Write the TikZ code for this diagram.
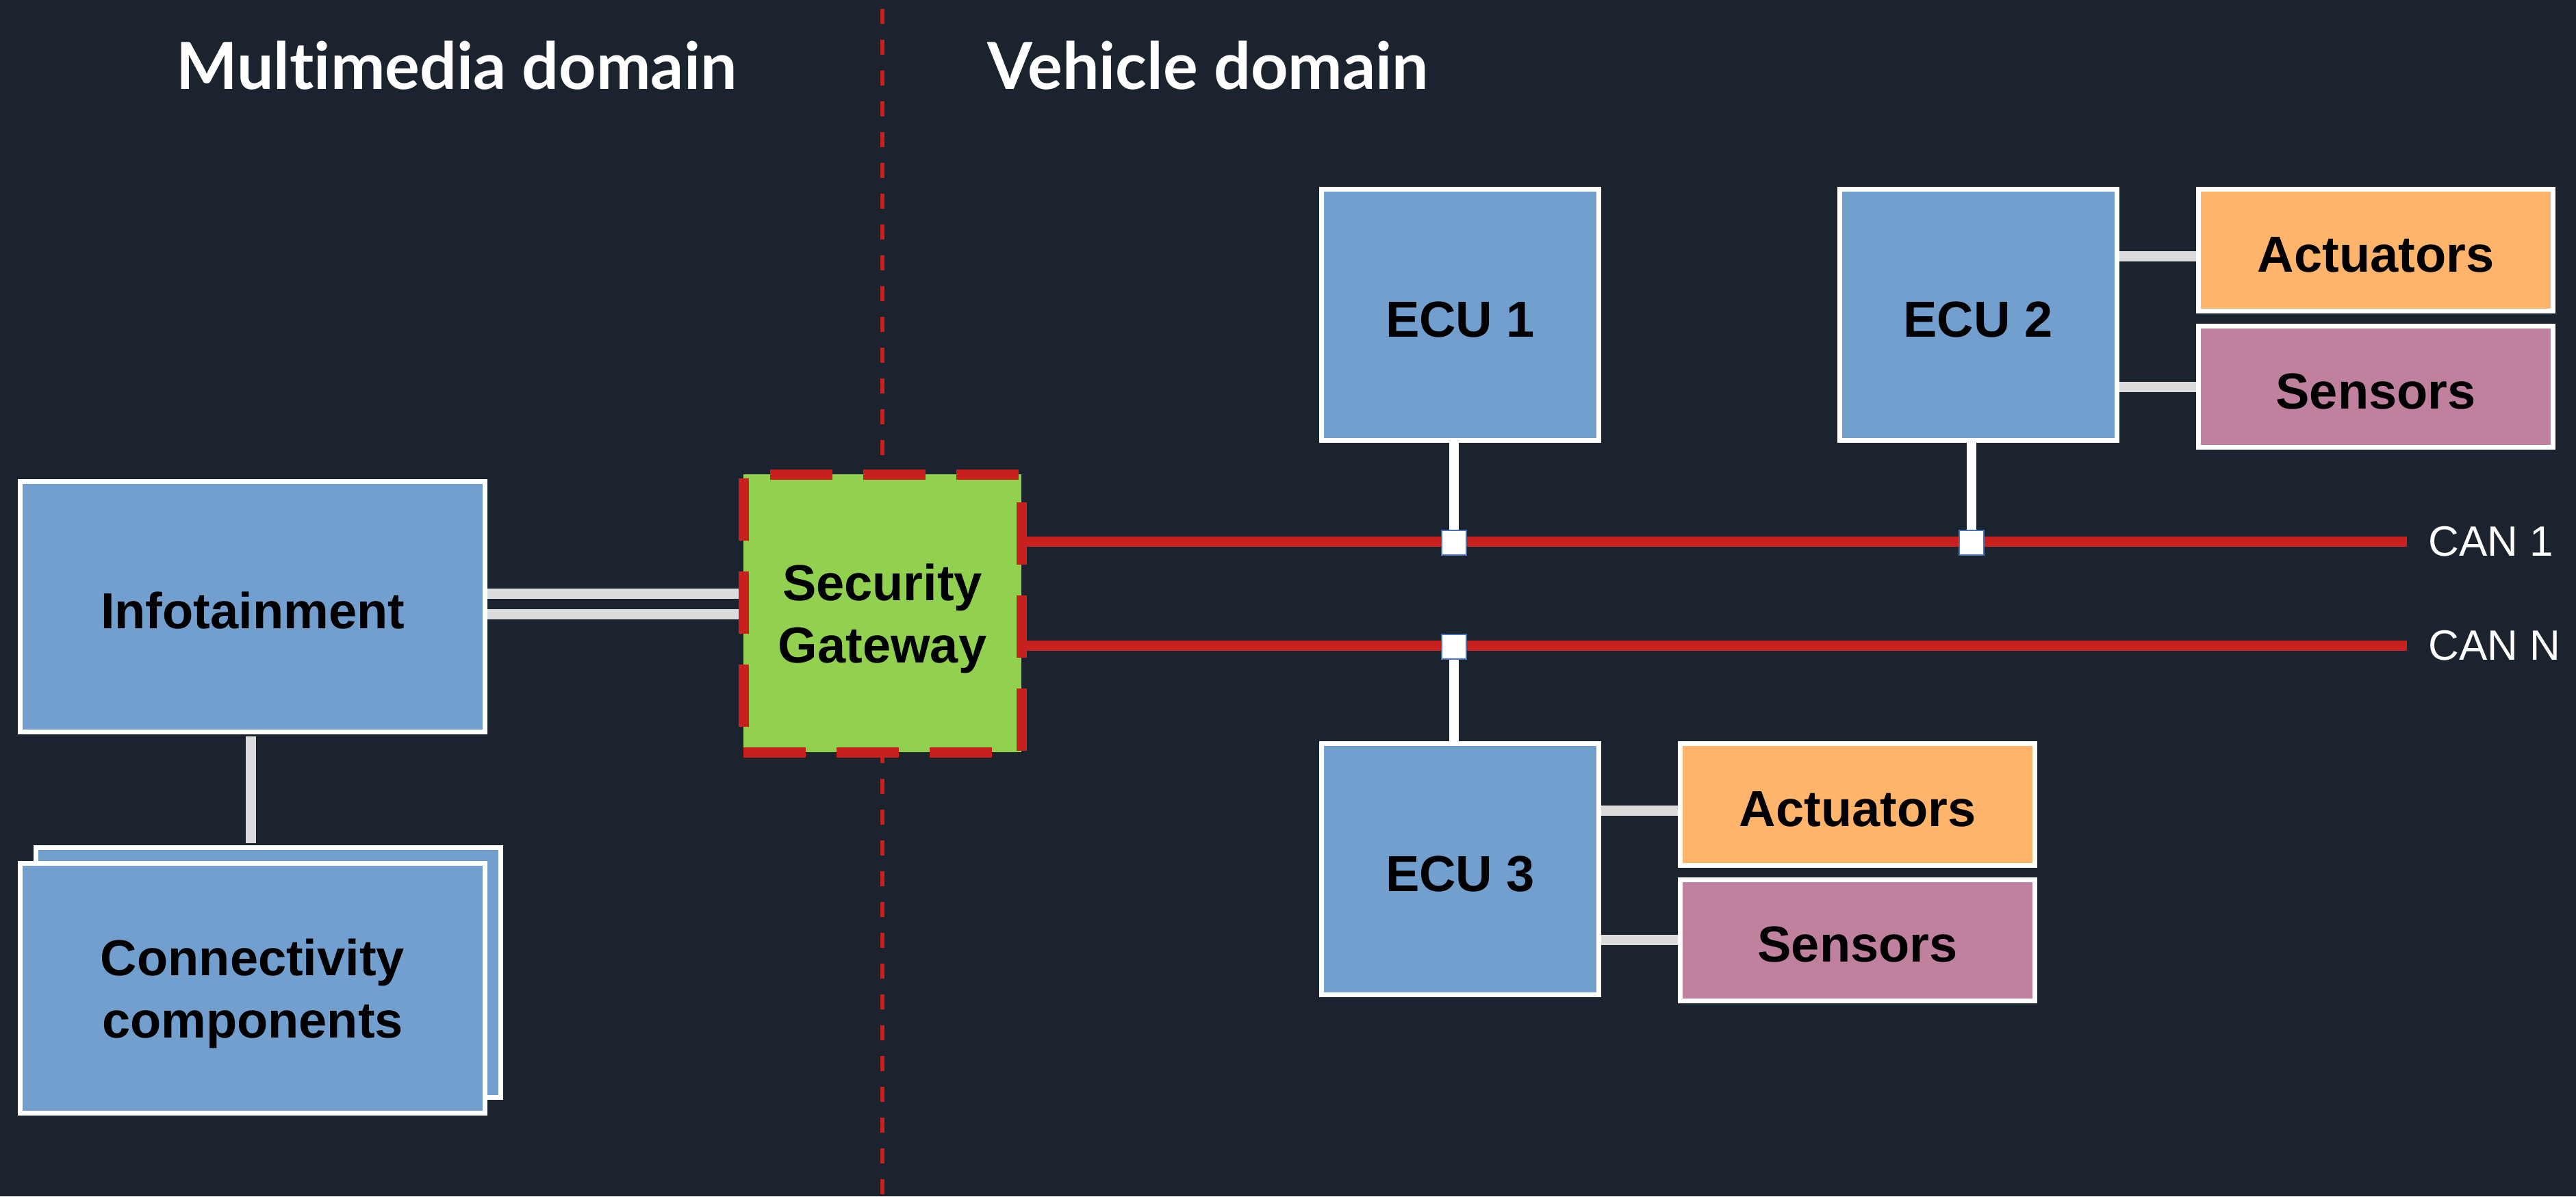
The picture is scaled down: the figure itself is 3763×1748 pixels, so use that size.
\documentclass[tikz,border=0pt]{standalone}
\usepackage{fontspec}
\setmainfont{Liberation Sans}
\newfontfamily\titlefont{Lato}[Ligatures={NoCommon}]
\definecolor{bgc}{HTML}{1B232E}
\definecolor{ecublue}{HTML}{739FCF}
\definecolor{gwgreen}{HTML}{92D050}
\definecolor{canred}{HTML}{C8201F}
\definecolor{actorange}{HTML}{FFB46B}
\definecolor{senmauve}{HTML}{C0819F}
\definecolor{linegray}{HTML}{DCDCDC}
\definecolor{jblue}{HTML}{4A72B8}
\tikzset{
  box/.style={draw=white, line width=7pt, fill=ecublue, inner sep=0pt, text=black, align=center,
    font=\bfseries\fontsize{74}{91}\selectfont},
  oneline/.style={text height=64pt, text depth=0pt},
  twoline/.style={text depth=0pt},
  ecubox/.style={box, oneline, minimum width=405pt, minimum height=367pt},
  actbox/.style={box, oneline, fill=actorange, minimum width=518pt, minimum height=178pt},
  senbox/.style={box, oneline, fill=senmauve, minimum width=518pt, minimum height=177pt},
  gwbox/.style={fill=gwgreen, draw=canred, line width=15pt, dash pattern=on 91pt off 45pt,
    minimum size=406pt, inner sep=0pt, text=black, align=center, font=\bfseries\fontsize{74}{91}\selectfont},
  jbox/.style={fill=white, draw=jblue, line width=2pt, minimum size=36pt, inner sep=0pt},
  gline/.style={draw=linegray, line width=15pt},
  wline/.style={draw=white, line width=14pt},
  canline/.style={draw=canred, line width=15pt},
  divider/.style={draw=canred, line width=6pt, dash pattern=on 22pt off 23pt, dash phase=32pt},
  titletext/.style={text=white, inner sep=0pt, font=\titlefont\bfseries\fontsize{95}{110}\selectfont},
  canlabel/.style={text=white, inner sep=0pt, anchor=west, font=\fontsize{62}{70}\selectfont},
}
\begin{document}
\begin{tikzpicture}[x=1pt,y=-1pt]
\fill[bgc] (0,0) rectangle (3763,1748);
\useasboundingbox (0,0) rectangle (3763,1748);
% divider
\coordinate (dtop) at (1289,0);
\coordinate (dbot) at (1289,1748);
\draw[divider] (dtop) -- (dbot);
% titles
\node[titletext] (t1) at (667,96) {Multimedia domain};
\node[titletext] (t2) at (1765,96) {Vehicle domain};
% multimedia boxes
\node[box, oneline, minimum width=679pt, minimum height=366pt] (info) at (369,886.5) {Infotainment};
\node[box, minimum width=679pt, minimum height=365pt] (connback) at (392,1421) {};
\node[box, twoline, minimum width=679pt, minimum height=365pt] (conn) at (369,1444) {Connectivity\\components};
\draw[gline, shorten <=3pt, shorten >=3pt] (info.south -| 366,0) -- (connback.north -| 366,0);
% gateway
\node[gwbox, twoline] (gw) at (1289,896) {Security\\Gateway};
\draw[gline] (info.east |- 0,867) -- (gw.west |- 0,867);
\draw[gline] (info.east |- 0,897) -- (gw.west |- 0,897);
% ECUs
\node[ecubox] (ecu1) at (2133,460) {ECU 1};
\node[ecubox] (ecu2) at (2889.5,460) {ECU 2};
\node[ecubox] (ecu3) at (2133,1270) {ECU 3};
\node[actbox] (act2) at (3470.5,365.5) {Actuators};
\node[senbox] (sen2) at (3470.5,565) {Sensors};
\node[actbox] (act3) at (2713.5,1175) {Actuators};
\node[senbox] (sen3) at (2713.5,1373.5) {Sensors};
\draw[gline] (ecu2.east |- 0,374) -- (act2.west |- 0,374);
\draw[gline] (ecu2.east |- 0,565) -- (sen2.west |- 0,565);
\draw[gline] (ecu3.east |- 0,1184) -- (act3.west |- 0,1184);
\draw[gline] (ecu3.east |- 0,1373) -- (sen3.west |- 0,1373);
% CAN buses
\coordinate (can1e) at (3516,791);
\coordinate (canne) at (3516,943);
\draw[canline] (gw.east |- can1e) -- (can1e);
\draw[canline] (gw.east |- canne) -- (canne);
\node[canlabel] (can1) at (3547,791) {CAN 1};
\node[canlabel] (cann) at (3547,943) {CAN N};
% junctions
\node[jbox] (j1) at (2124,793) {};
\node[jbox] (j2) at (2880,793) {};
\node[jbox] (jn) at (2124,945) {};
\draw[wline] (j1.north) -- (j1 |- ecu1.south);
\draw[wline] (j2.north) -- (j2 |- ecu2.south);
\draw[wline] (jn.south) -- (jn |- ecu3.north);
\end{tikzpicture}
\end{document}
